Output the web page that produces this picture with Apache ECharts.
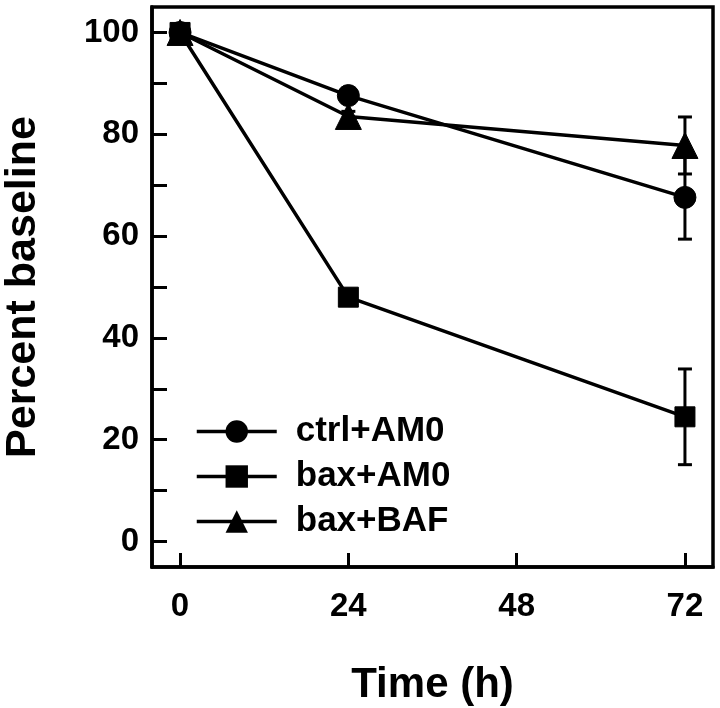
<!DOCTYPE html>
<html>
<head>
<meta charset="utf-8">
<script src="https://cdn.jsdelivr.net/npm/echarts@6/dist/echarts.min.js"></script>
<style>html,body{margin:0;padding:0;background:#fff}#c{width:720px;height:708px}</style>
</head>
<body>
<div id="c"></div>
<script>
var times = [0, 24, 72];
var seriesNames = ['ctrl+AM0', 'bax+AM0', 'bax+BAF'];
var ctrlAM0 = [100, 87.6, 67.6];
var ctrlAM0Err = [0, 1, 8.2];
var baxAM0 = [100, 48.0, 24.5];
var baxAM0Err = [0, 1, 9.4];
var baxBAF = [100, 83.5, 77.8];
var baxBAFErr = [0, 1, 5.6];
var xTicks = [0, 24, 48, 72];
var yTicks = [0, 10, 20, 30, 40, 50, 60, 70, 80, 90, 100];
var yLabels = [0, 20, 40, 60, 80, 100];

var FONT = '"Liberation Sans", Arial, sans-serif';
var chart = echarts.init(document.getElementById('c'));

function pairs(vals) { return times.map(function (t, i) { return [t, vals[i]]; }); }
function errData(vals, errs) { return times.map(function (t, i) { return [t, vals[i], errs[i]]; }); }

function errRender(params, api) {
  var x = api.value(0), y = api.value(1), e = api.value(2);
  if (!e) return null;
  var hi = api.coord([x, y + e]);
  var lo = api.coord([x, y - e]);
  var cap = 7;
  var st = { stroke: '#000', lineWidth: 3 };
  return {
    type: 'group',
    children: [
      { type: 'line', shape: { x1: hi[0], y1: hi[1], x2: lo[0], y2: lo[1] }, style: st },
      { type: 'line', shape: { x1: hi[0] - cap, y1: hi[1], x2: hi[0] + cap, y2: hi[1] }, style: st },
      { type: 'line', shape: { x1: lo[0] - cap, y1: lo[1], x2: lo[0] + cap, y2: lo[1] }, style: st }
    ]
  };
}

function lineSeries(name, vals, symbol, size) {
  return {
    name: name, type: 'line', data: pairs(vals),
    symbol: symbol, symbolSize: size, showSymbol: true,
    lineStyle: { color: '#000', width: 3.5 },
    itemStyle: { color: '#000', borderColor: '#000' },
    z: 5, animation: false
  };
}
function errSeries(vals, errs) {
  return { type: 'custom', data: errData(vals, errs), renderItem: errRender, z: 3, animation: false,
           encode: { x: 0, y: 1 }, silent: true };
}

chart.setOption({
  animation: false,
  backgroundColor: '#fff',
  grid: { left: 152, top: 7, right: 7, bottom: 141, outerBoundsMode: 'none', containLabel: false,
          show: true, borderColor: '#000', borderWidth: 3.5, backgroundColor: 'transparent' },
  legend: {
    orient: 'vertical', left: 195, top: 414, padding: 0, itemWidth: 80, itemHeight: 28, itemGap: 10,
    data: seriesNames,
    textStyle: { fontFamily: FONT, fontWeight: 'bold', fontSize: 35, color: '#000', padding: [0, 0, 0, 14] },
    lineStyle: { width: 3.5, color: '#000' },
    itemStyle: { color: '#000' }
  },
  xAxis: {
    type: 'value', min: -4, max: 76,
    name: 'Time (h)', nameLocation: 'middle', nameGap: 97,
    nameTextStyle: { fontFamily: FONT, fontWeight: 'bold', fontSize: 42, color: '#000' },
    axisLine: { onZero: false, lineStyle: { color: '#000', width: 3.5 } },
    axisTick: { inside: true, length: 14, customValues: xTicks, lineStyle: { color: '#000', width: 3 } },
    axisLabel: { customValues: xTicks, margin: 23, fontFamily: FONT, fontWeight: 'bold', fontSize: 33, color: '#000' },
    splitLine: { show: false }
  },
  yAxis: {
    type: 'value', min: -5, max: 105,
    name: 'Percent baseline', nameLocation: 'middle', nameGap: 107, nameRotate: 90,
    nameTextStyle: { fontFamily: FONT, fontWeight: 'bold', fontSize: 43, color: '#000' },
    axisLine: { onZero: false, lineStyle: { color: '#000', width: 3.5 } },
    axisTick: { inside: true, length: 15, customValues: yTicks, lineStyle: { color: '#000', width: 3 } },
    axisLabel: { customValues: yLabels, margin: 13, fontFamily: FONT, fontWeight: 'bold', fontSize: 33, color: '#000' },
    splitLine: { show: false }
  },
  series: [
    errSeries(ctrlAM0, ctrlAM0Err),
    errSeries(baxAM0, baxAM0Err),
    errSeries(baxBAF, baxBAFErr),
    lineSeries(seriesNames[0], ctrlAM0, 'circle', 22),
    lineSeries(seriesNames[1], baxAM0, 'rect', 20),
    lineSeries(seriesNames[2], baxBAF, 'triangle', 26)
  ]
});
</script>
</body>
</html>
